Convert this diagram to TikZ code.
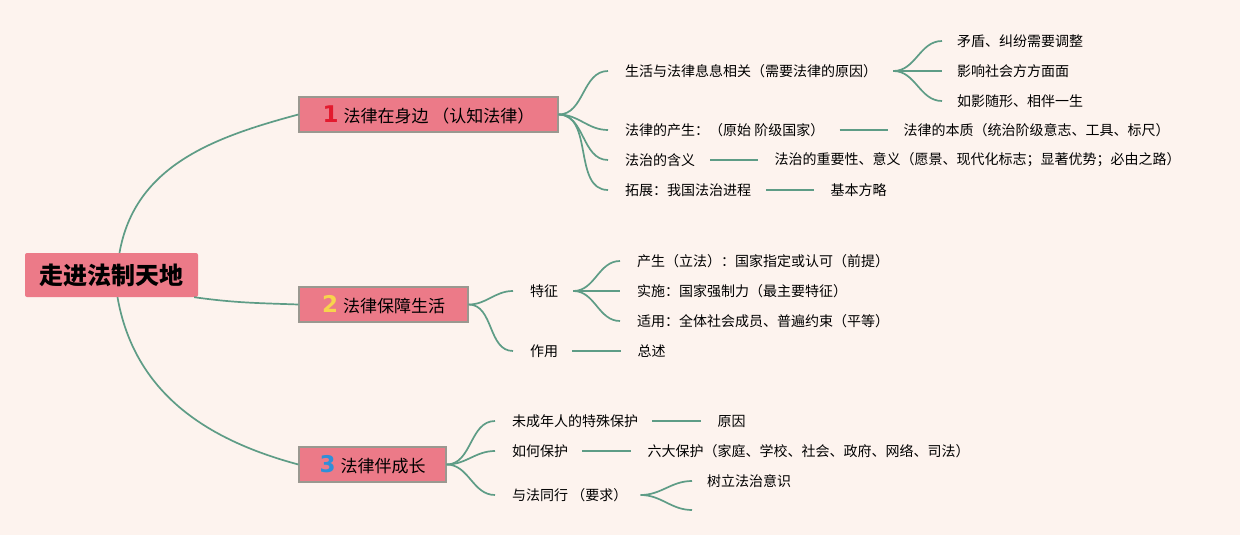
\documentclass[tikz,border=0pt]{standalone}
\usepackage{fontspec}
\setmainfont{Noto Sans CJK SC}
\newfontfamily\digitfont{DejaVu Sans}[UprightFont={DejaVu Sans Bold}]
\usetikzlibrary{calc}
\definecolor{bgc}{HTML}{FDF3EE}
\definecolor{boxfill}{HTML}{EC7A88}
\definecolor{boxedge}{HTML}{9A9890}
\definecolor{linec}{HTML}{5E9C86}
\definecolor{cone}{HTML}{E31A2E}
\definecolor{ctwo}{HTML}{F7D44C}
\definecolor{cthree}{HTML}{2F8FD8}
\newcommand\bnum[2]{{\digitfont\fontsize{23}{23}\selectfont\color{#1}#2}\hspace{5pt}}
\begin{document}
\begin{tikzpicture}[x=1pt,y=1pt,
  rootbox/.style={fill=boxfill, rounded corners=2pt, inner sep=0pt, minimum width=173, minimum height=44, font=\fontsize{24}{28}\selectfont\bfseries},
  branchbox/.style={draw=boxedge, line width=1.2pt, fill=boxfill, inner sep=0pt, minimum height=35, font=\fontsize{17}{20}\selectfont},
  leaf/.style={anchor=west, inner sep=0pt, font=\fontsize{14}{17}\selectfont},
  link/.style={draw=linec, line width=1.7pt},
  fan/.style={link, out=0, in=180}]
\fill[bgc] (0,0) rectangle (1240,-535);
\useasboundingbox (0,0) rectangle (1240,-535);

% main nodes
\node[rootbox] (root) at (111.5,-275) {走进法制天地};
\node[branchbox, minimum width=259] (b1) at (428.5,-114.5) {\bnum{cone}{1}法律在身边 （认知法律）};
\node[branchbox, minimum width=169] (b2) at (383.5,-304.5) {\bnum{ctwo}{2}法律保障生活};
\node[branchbox, minimum width=147] (b3) at (372.5,-464.5) {\bnum{cthree}{3}法律伴成长};

\draw[link] ([xshift=8]root.north) to[out=80,in=195] (b1.west);
\draw[link] ([xshift=-4]root.south east) to[out=-8,in=178] (b2.west);
\draw[link] ([xshift=6]root.south) to[out=-80,in=165] (b3.west);

% branch 1
\node[leaf] (n11) at (625,-71) {生活与法律息息相关（需要法律的原因）};
\node[leaf] (n12) at (625,-130) {法律的产生：（原始 阶级国家）};
\node[leaf] (n13) at (625,-160) {法治的含义};
\node[leaf] (n14) at (625,-190) {拓展：我国法治进程};
\foreach \n in {n11,n12,n13,n14} \draw[fan] (b1.east) to ([xshift=-17]\n.west);

\node[leaf] (n111) at (957,-41) {矛盾、纠纷需要调整};
\node[leaf] (n112) at (957,-71) {影响社会方方面面};
\node[leaf] (n113) at (957,-101) {如影随形、相伴一生};
\foreach \n in {n111,n112,n113} \draw[fan] ([xshift=16]n11.east) to ([xshift=-15]\n.west);

\node[leaf] (n121) at ([xshift=79]n12.east) {法律的本质（统治阶级意志、工具、标尺）};
\node[leaf] (n131) at ([xshift=79]n13.east) {法治的重要性、意义（愿景、现代化标志；显著优势；必由之路）};
\node[leaf] (n141) at ([xshift=79]n14.east) {基本方略};
\draw[link] ([xshift=15]n12.east) -- ([xshift=-16]n121.west);
\draw[link] ([xshift=15]n13.east) -- ([xshift=-16]n131.west);
\draw[link] ([xshift=15]n14.east) -- ([xshift=-16]n141.west);

% branch 2
\node[leaf] (n21) at (530,-291) {特征};
\node[leaf] (n22) at (530,-351) {作用};
\foreach \n in {n21,n22} \draw[fan] (b2.east) to ([xshift=-17]\n.west);
\node[leaf] (n211) at (637,-261) {产生（立法）：国家指定或认可（前提）};
\node[leaf] (n212) at (637,-291) {实施：国家强制力（最主要特征）};
\node[leaf] (n213) at (637,-321) {适用：全体社会成员、普遍约束（平等）};
\foreach \n in {n211,n212,n213} \draw[fan] ([xshift=15]n21.east) to ([xshift=-17]\n.west);
\node[leaf] (n221) at ([xshift=79]n22.east) {总述};
\draw[link] ([xshift=14]n22.east) -- ([xshift=-16]n221.west);

% branch 3
\node[leaf] (n31) at (512,-421) {未成年人的特殊保护};
\node[leaf] (n32) at (512,-451) {如何保护};
\node[leaf] (n33) at (512,-495) {与法同行 （要求）};
\foreach \n in {n31,n32,n33} \draw[fan] (b3.east) to ([xshift=-17]\n.west);
\node[leaf] (n311) at ([xshift=79]n31.east) {原因};
\node[leaf] (n321) at ([xshift=79]n32.east) {六大保护（家庭、学校、社会、政府、网络、司法）};
\draw[link] ([xshift=14]n31.east) -- ([xshift=-16]n311.west);
\draw[link] ([xshift=14]n32.east) -- ([xshift=-16]n321.west);
\node[leaf] (n331) at (707,-481) {树立法治意识};
\coordinate (n332) at (692,-510);
\draw[fan] ([xshift=13]n33.east) to ([xshift=-15]n331.west);
\draw[fan] ([xshift=13]n33.east) to (n332);
\end{tikzpicture}
\end{document}
